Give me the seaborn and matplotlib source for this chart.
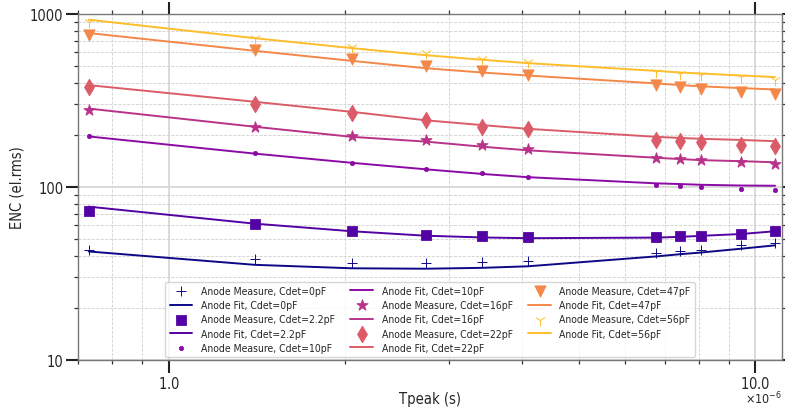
import numpy as np
import matplotlib
matplotlib.use("Agg")
import matplotlib.pyplot as plt
import matplotlib.ticker as mticker
import seaborn as sns

# peaking times in microseconds
tpeak_us = [0.73, 1.40, 2.05, 2.74, 3.42, 4.09, 6.77, 7.45, 8.07, 9.46, 10.8]

cdet_labels = ["0pF", "2.2pF", "10pF", "16pF", "22pF", "47pF", "56pF"]

meas_0 = [43.5, 38.4, 36.4, 36.3, 36.8, 37.5, 41.6, 42.5, 43.5, 46.0, 47.5]
fit_0 = [42.4, 35.5, 33.9, 33.7, 34.1, 34.8, 39.7, 40.9, 41.8, 44.0, 46.0]

meas_2p2 = [73.1, 60.8, 56.0, 52.8, 51.9, 51.2, 51.4, 51.9, 52.4, 53.7, 55.5]
fit_2p2 = [77.0, 61.4, 55.5, 52.3, 51.1, 50.6, 51.0, 51.5, 52.2, 53.5, 55.5]

meas_10 = [196, 157, 138, 127.5, 120, 114, 103, 101, 100.3, 98, 96.7]
fit_10 = [196, 156, 138, 126.6, 119, 114, 105, 104, 103, 102, 101.7]

meas_16 = [280, 223, 197, 186, 176, 166, 148, 146, 142.5, 139, 136]
fit_16 = [284, 223, 195, 183, 171, 163, 147.6, 145, 143, 141, 139]

meas_22 = [379, 303, 268, 243, 222, 217, 188, 184, 181, 176, 172]
fit_22 = [388, 311, 272, 243, 228, 217, 195, 192, 190, 187, 184]

meas_47 = [759, 618, 546, 501, 469, 445, 388, 376, 367, 354, 347]
fit_47 = [776, 613, 536, 486, 459, 441, 397, 388, 382, 373, 366]

meas_56 = [895, 730, 641, 592, 553, 525, 463, 453, 445, 430, 416]
fit_56 = [927, 725, 635, 578, 544, 520, 469, 459, 453, 441, 432]

measures = [meas_0, meas_2p2, meas_10, meas_16, meas_22, meas_47, meas_56]
fits = [fit_0, fit_2p2, fit_10, fit_16, fit_22, fit_47, fit_56]

sns.set_theme(style="ticks")
plt.rcParams["font.family"] = ["DejaVu Sans"]
plt.rcParams["font.stretch"] = "condensed"

cmap = sns.color_palette("plasma", as_cmap=True)
colors = [cmap(i / 7) for i in range(7)]
markers = ["+", "s", ".", "*", "d", "v", "1"]
sizes = [45, 50, 40, 70, 70, 65, 70]

fig = plt.figure(figsize=(7.85, 4.1), dpi=100)
ax = fig.add_axes([0.0994, 0.1195, 0.8968, 0.8439])

tpeak = np.array(tpeak_us) * 1e-6
for lab, m, f, c, mk, s in zip(cdet_labels, measures, fits, colors, markers, sizes):
    kw = {"linewidth": 0.7} if mk in ("+", "1") else {"edgecolor": c}
    sns.scatterplot(x=tpeak, y=m, marker=mk, s=s, color=c, ax=ax,
                    label=f"Anode Measure, Cdet={lab}", zorder=3, **kw)
    sns.lineplot(x=tpeak, y=f, color=c, linewidth=1.4, ax=ax,
                 label=f"Anode Fit, Cdet={lab}", zorder=2)

ax.set_xscale("log")
ax.set_yscale("log")
ax.set_xlim(0.7e-6, 11.1e-6)
ax.set_ylim(10, 1000)

fmt = mticker.ScalarFormatter(useMathText=True)
fmt.set_powerlimits((-6, -6))
ax.xaxis.set_major_formatter(fmt)
ax.xaxis.set_minor_formatter(mticker.NullFormatter())
ax.yaxis.set_major_formatter(mticker.FormatStrFormatter("%d"))
ax.yaxis.set_minor_formatter(mticker.NullFormatter())

ax.tick_params(which="major", direction="out", length=9, width=1.5,
               labelsize=10.5, top=True, right=True, color="#222222", pad=1.5)
ax.tick_params(which="minor", direction="out", length=3.2, width=0.9,
               top=True, right=True, color="#333333")
# pull the x10^-6 offset label up closer to the tick labels
ax.xaxis.OFFSETTEXTPAD = -0.3
ax.xaxis.get_offset_text().set_fontsize(9)

ax.grid(True, which="major", color="#d8d8d8", lw=1.3, ls="-")
ax.grid(True, which="minor", color="#d0d0d0", lw=0.6, ls="--")
ax.set_axisbelow(True)
for sp in ax.spines.values():
    sp.set_visible(True)
    sp.set_color("#777777")
    sp.set_linewidth(1.0)

ax.set_xlabel("Tpeak (s)", fontsize=10.5, labelpad=0)
ax.set_ylabel("ENC (el.rms)", fontsize=10.5)

ax.legend(ncol=3, loc="lower center", fontsize=7.5, labelspacing=0.4,
          columnspacing=1.5, borderaxespad=0.3, handlelength=2.2, frameon=True)

fig.savefig("out.png", dpi=100)
